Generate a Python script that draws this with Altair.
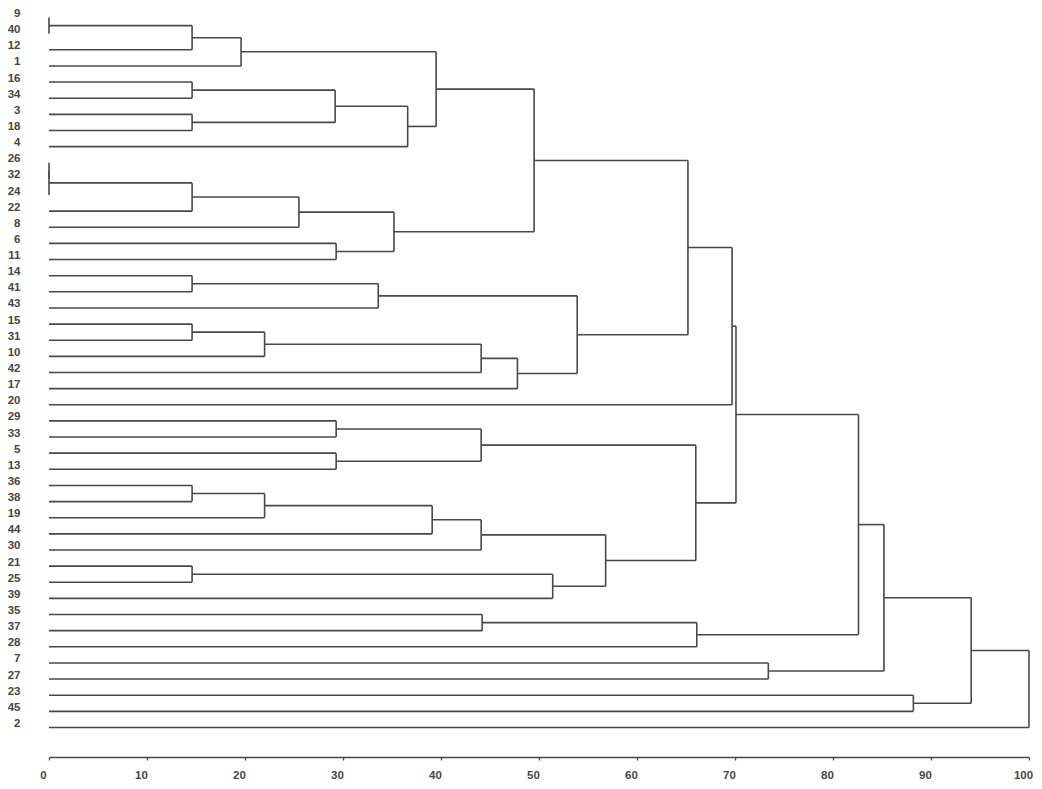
import altair as alt
import pandas as pd

# Leaf order (top to bottom)
leaf_labels = ["9", "40", "12", "1", "16", "34", "3", "18", "4", "26", "32", "24",
               "22", "8", "6", "11", "14", "41", "43", "15", "31", "10", "42", "17",
               "20", "29", "33", "5", "13", "36", "38", "19", "44", "30", "21", "25",
               "39", "35", "37", "28", "7", "27", "23", "45", "2"]

# Agglomeration steps: child a, child b ("#k" = result of step k), rescaled distance
merge_a = ["9", "#0", "#1", "16", "3", "#3", "#5", "#2", "26", "#8", "#9", "#10",
           "6", "#11", "#7", "14", "#15", "15", "#17", "#18", "#19", "#16", "#14",
           "#22", "29", "5", "#24", "36", "#27", "#28", "#29", "21", "#31", "#30",
           "#26", "#23", "35", "#36", "#35", "7", "#38", "23", "#40", "#42"]
merge_b = ["40", "12", "1", "34", "18", "#4", "4", "#6", "32", "24", "22", "8",
           "11", "#12", "#13", "41", "43", "31", "10", "42", "17", "#20", "#21",
           "20", "33", "13", "#25", "38", "19", "44", "30", "25", "39", "#32",
           "#33", "#34", "37", "28", "#37", "27", "#39", "45", "#41", "2"]
merge_height = [0, 14.6, 19.6, 14.6, 14.6, 29.2, 36.6, 39.5,
                0, 0, 14.6, 25.5, 29.3, 35.2, 49.5,
                14.6, 33.6, 14.6, 22.0, 44.1, 47.8, 53.9, 65.2, 69.7,
                29.3, 29.3, 44.1, 14.6, 22.0, 39.1, 44.1, 14.6, 51.4, 56.8, 66.0, 70.1,
                44.2, 66.1, 82.6, 73.4, 85.2, 88.2, 94.1, 100]

x_ticks = [0, 10, 20, 30, 40, 50, 60, 70, 80, 90, 100]

# Build the dendrogram segments from the merge table
node_pos = {lab: (float(i), 0.0) for i, lab in enumerate(leaf_labels)}
rows = []
for k, (a, b, h) in enumerate(zip(merge_a, merge_b, merge_height)):
    ya, ha = node_pos[a]
    yb, hb = node_pos[b]
    rows.append({"x": ha, "x2": h, "y": ya, "y2": ya})
    rows.append({"x": hb, "x2": h, "y": yb, "y2": yb})
    rows.append({"x": h, "x2": h, "y": ya, "y2": yb})
    node_pos["#%d" % k] = ((ya + yb) / 2.0, h)
seg = pd.DataFrame(rows)

line_col = "#484848"
text_col = "#464646"
font = "Liberation Sans"

label_array = "[" + ",".join("'%s'" % s for s in leaf_labels) + "]"

chart = alt.Chart(seg).mark_rule(color=line_col, strokeWidth=1.6).encode(
    x=alt.X("x:Q",
            scale=alt.Scale(domain=[0, 100], nice=False, zero=False),
            axis=alt.Axis(values=x_ticks, title=None, grid=False,
                          domainColor=line_col, domainWidth=1.6,
                          tickColor=line_col, tickWidth=1.3, tickSize=3,
                          labelFont=font, labelFontSize=11.5, labelFontWeight="bold",
                          labelColor=text_col, labelBaseline="middle",
                          labelPadding=15, labelOffset=-6, labelFlush=False)),
    x2="x2:Q",
    y=alt.Y("y:Q",
            scale=alt.Scale(domain=[-0.59, 45.83], nice=False, zero=False, reverse=True),
            axis=alt.Axis(values=list(range(len(leaf_labels))), title=None, grid=False,
                          domain=False, ticks=False, labelPadding=29,
                          labelExpr=label_array + "[datum.value]",
                          labelFont=font, labelFontSize=11.5, labelFontWeight="bold",
                          labelColor=text_col, labelOffset=-4, labelFlush=False)),
    y2="y2:Q",
).properties(
    width=980,
    height=749,
    autosize="none",
    padding={"left": 41, "right": 5, "top": 0, "bottom": 24},
    background="white",
).configure_view(stroke=None)

chart.save("out.html", embed_options={"renderer": "svg", "actions": False})
